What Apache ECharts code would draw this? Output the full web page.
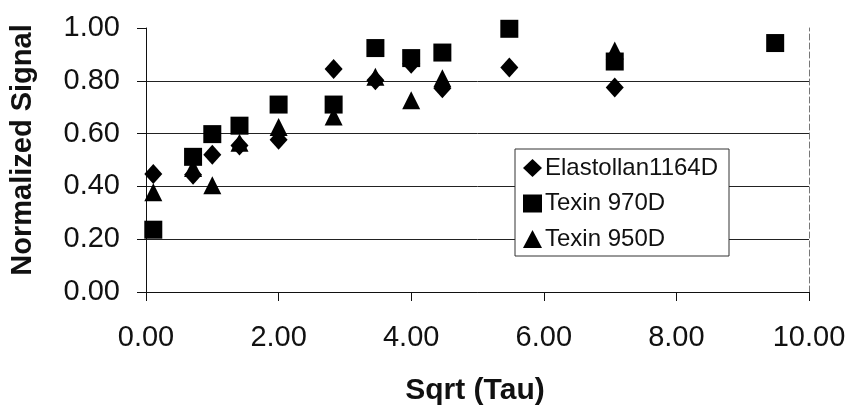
<!DOCTYPE html>
<html>
<head>
<meta charset="utf-8">
<script src="https://cdn.jsdelivr.net/npm/echarts@6/dist/echarts.min.js"></script>
<style>
html,body{margin:0;padding:0;background:#fff;}
#chart{width:852px;height:408px;}
</style>
</head>
<body>
<div id="chart"></div>
<script>
// Data
const seriesNames = ['Elastollan1164D', 'Texin 970D', 'Texin 950D'];
const elastollanData = [
  [0.11, 0.447], [0.71, 0.444], [1.00, 0.520], [1.41, 0.555], [2.00, 0.577],
  [2.83, 0.845], [3.46, 0.802], [4.00, 0.865], [4.47, 0.772], [5.48, 0.850], [7.07, 0.775]
];
const texin970Data = [
  [0.11, 0.236], [0.71, 0.512], [1.00, 0.598], [1.41, 0.630], [2.00, 0.710],
  [2.83, 0.710], [3.46, 0.924], [4.00, 0.886], [4.47, 0.907], [5.48, 0.997],
  [7.07, 0.873], [9.49, 0.943]
];
const texin950Data = [
  [0.11, 0.378], [0.71, 0.470], [1.00, 0.404], [1.41, 0.565], [2.00, 0.625],
  [2.83, 0.665], [3.46, 0.815], [4.00, 0.726], [4.47, 0.810], [7.07, 0.915]
];
const xTitle = 'Sqrt (Tau)';
const yTitle = 'Normalized Signal';

const FONT = '"Liberation Sans", Arial, sans-serif';
const chart = echarts.init(document.getElementById('chart'), null, {renderer: 'canvas'});

chart.setOption({
  animation: false,
  backgroundColor: '#fff',
  grid: {left: 146, right: 43, top: 28, bottom: 116, containLabel: false},
  xAxis: {
    type: 'value', min: 0, max: 10, interval: 2,
    axisLine: {show: true, onZero: false, lineStyle: {color: '#111', width: 1}},
    axisTick: {show: true, inside: false, length: 9, lineStyle: {color: '#111', width: 1}},
    axisLabel: {margin: 31, fontSize: 29, color: '#111', fontFamily: FONT,
      formatter: v => v.toFixed(2)},
    splitLine: {show: false}
  },
  yAxis: [{
    type: 'value', min: 0, max: 1, interval: 0.2,
    axisLine: {show: true, lineStyle: {color: '#111', width: 1}},
    axisTick: {show: true, inside: false, length: 9, lineStyle: {color: '#111', width: 1}},
    axisLabel: {margin: 26, fontSize: 29, color: '#111', fontFamily: FONT,
      formatter: v => v.toFixed(2)},
    splitLine: {show: true, showMaxLine: false, lineStyle: {color: '#222', width: 1}}
  }, {
    type: 'value', min: 0, max: 1, interval: 0.2, position: 'right',
    axisLine: {show: true, lineStyle: {color: '#777', width: 1, type: [6, 3]}},
    axisTick: {show: false}, axisLabel: {show: false}, splitLine: {show: false}
  }],
  legend: {
    orient: 'vertical', left: 515, top: 149,
    padding: [7, 11, 5, 8],
    borderColor: '#333', borderWidth: 1, backgroundColor: '#fff',
    itemWidth: 19, itemHeight: 18, itemGap: 11.5,
    textStyle: {fontSize: 24, lineHeight: 24, color: '#111', fontFamily: FONT, padding: [0, 0, 0, -2]},
    data: [
      {name: seriesNames[0], icon: 'diamond'},
      {name: seriesNames[1], icon: 'rect'},
      {name: seriesNames[2], icon: 'triangle'}
    ]
  },
  series: [
    {name: seriesNames[0], type: 'scatter', symbol: 'diamond', symbolSize: [18, 20],
      itemStyle: {color: '#000', opacity: 1}, data: elastollanData},
    {name: seriesNames[1], type: 'scatter', symbol: 'rect', symbolSize: [18, 18],
      itemStyle: {color: '#000', opacity: 1}, data: texin970Data},
    {name: seriesNames[2], type: 'scatter', symbol: 'triangle', symbolSize: [18, 18],
      itemStyle: {color: '#000', opacity: 1}, data: texin950Data}
  ],
  graphic: [
    {type: 'text', x: 23, y: 150, rotation: Math.PI / 2,
      style: {text: yTitle, fontSize: 29, fontWeight: 'bold', fontFamily: FONT,
        fill: '#111', align: 'center', verticalAlign: 'middle'}},
    {type: 'text', x: 475, y: 391,
      style: {text: xTitle, fontSize: 30, fontWeight: 'bold', fontFamily: FONT,
        fill: '#111', align: 'center', verticalAlign: 'middle'}}
  ]
});
</script>
</body>
</html>
